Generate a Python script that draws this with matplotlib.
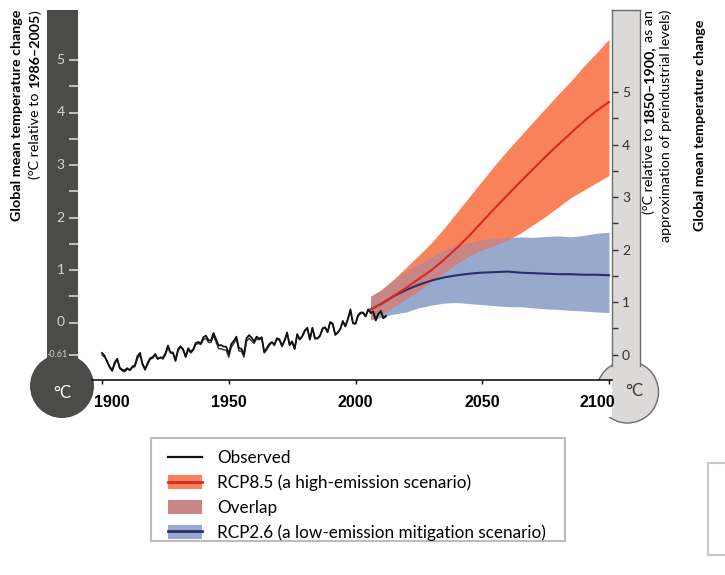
import matplotlib
matplotlib.use('Agg')
import matplotlib.pyplot as plt
from matplotlib.patches import Circle, Rectangle, Patch
from matplotlib.lines import Line2D
from matplotlib.transforms import offset_copy
import numpy as np

# ---- data ----
obs_years = np.arange(1900, 2013)
# two observational datasets, degC relative to 1986-2005
obs_a = [-0.58, -0.63, -0.75, -0.84, -0.91, -0.76, -0.69, -0.86, -0.90, -0.91,
         -0.87, -0.91, -0.84, -0.81, -0.64, -0.58, -0.80, -0.90, -0.77, -0.68,
         -0.66, -0.60, -0.69, -0.67, -0.67, -0.59, -0.44, -0.57, -0.57, -0.72,
         -0.51, -0.45, -0.52, -0.65, -0.49, -0.56, -0.51, -0.39, -0.37, -0.40,
         -0.28, -0.25, -0.34, -0.34, -0.20, -0.32, -0.44, -0.43, -0.46, -0.46,
         -0.60, -0.41, -0.35, -0.27, -0.49, -0.50, -0.61, -0.30, -0.24, -0.29,
         -0.36, -0.27, -0.31, -0.28, -0.56, -0.49, -0.41, -0.37, -0.42, -0.30,
         -0.32, -0.44, -0.34, -0.19, -0.42, -0.36, -0.50, -0.22, -0.32, -0.26,
         -0.15, -0.10, -0.32, -0.10, -0.30, -0.30, -0.25, -0.11, -0.09, -0.18,
         0.01, -0.02, -0.23, -0.19, -0.12, 0.03, -0.07, 0.07, 0.25, -0.01,
         -0.02, 0.14, 0.19, 0.19, 0.12, 0.25, 0.18, 0.20, 0.04, 0.16,
         0.21, 0.08, 0.12]
obs_b = [-0.62, -0.66, -0.72, -0.86, -0.93, -0.80, -0.70, -0.88, -0.92, -0.94,
         -0.89, -0.90, -0.86, -0.84, -0.68, -0.62, -0.78, -0.88, -0.80, -0.70,
         -0.68, -0.62, -0.70, -0.66, -0.70, -0.62, -0.48, -0.58, -0.59, -0.74,
         -0.54, -0.47, -0.50, -0.66, -0.52, -0.58, -0.53, -0.42, -0.40, -0.42,
         -0.33, -0.30, -0.38, -0.38, -0.25, -0.37, -0.50, -0.50, -0.52, -0.53,
         -0.66, -0.47, -0.40, -0.31, -0.54, -0.55, -0.66, -0.36, -0.30, -0.35,
         -0.40, -0.31, -0.33, -0.30, -0.58, -0.52, -0.44, -0.38, -0.44, -0.32,
         -0.34, -0.46, -0.36, -0.21, -0.44, -0.38, -0.51, -0.24, -0.33, -0.27,
         -0.17, -0.12, -0.33, -0.12, -0.31, -0.31, -0.26, -0.13, -0.10, -0.19,
         0.00, -0.04, -0.24, -0.20, -0.13, 0.01, -0.08, 0.06, 0.22, -0.02,
         -0.03, 0.12, 0.17, 0.18, 0.11, 0.24, 0.19, 0.21, 0.06, 0.17,
         0.23, 0.09, 0.13]

proj_years = [2006, 2010, 2015, 2020, 2025, 2030, 2035, 2040, 2045, 2050,
              2055, 2060, 2065, 2070, 2075, 2080, 2085, 2090, 2095, 2100]
rcp85_mean = [0.25, 0.35, 0.50, 0.66, 0.83, 1.00, 1.20, 1.42, 1.66, 1.92,
              2.18, 2.43, 2.68, 2.92, 3.16, 3.39, 3.61, 3.83, 4.03, 4.20]
rcp85_high = [0.50, 0.62, 0.82, 1.05, 1.28, 1.52, 1.80, 2.10, 2.40, 2.70,
              3.00, 3.28, 3.55, 3.82, 4.08, 4.35, 4.60, 4.88, 5.13, 5.40]
rcp85_low = [0.05, 0.15, 0.30, 0.45, 0.60, 0.78, 0.95, 1.12, 1.27, 1.38,
             1.47, 1.57, 1.70, 1.86, 2.02, 2.20, 2.38, 2.52, 2.66, 2.80]
rcp26_mean = [0.25, 0.35, 0.50, 0.62, 0.72, 0.80, 0.86, 0.90, 0.93, 0.95,
              0.96, 0.97, 0.95, 0.94, 0.93, 0.92, 0.92, 0.91, 0.91, 0.90]
rcp26_high = [0.50, 0.60, 0.80, 0.98, 1.12, 1.25, 1.38, 1.47, 1.52, 1.58,
              1.60, 1.62, 1.63, 1.62, 1.64, 1.65, 1.63, 1.66, 1.70, 1.72]
rcp26_low = [0.05, 0.10, 0.16, 0.20, 0.28, 0.33, 0.37, 0.38, 0.36, 0.34,
             0.32, 0.30, 0.30, 0.28, 0.26, 0.25, 0.23, 0.22, 0.20, 0.19]

baseline_offset = 0.61  # 1986-2005 vs 1850-1900
year_ticks = [1900, 1950, 2000, 2050, 2100]
therm_ticks = [0, 1, 2, 3, 4, 5]
therm_half = [0.5, 1.5, 2.5, 3.5, 4.5]
legend_labels = ['Observed', 'RCP8.5 (a high-emission scenario)', 'Overlap',
                 'RCP2.6 (a low-emission mitigation scenario)']

# ---- style ----
plt.rcParams['font.family'] = ['Lato', 'DejaVu Sans']

red_fill = '#fa825a'
red_line = '#d62a1e'
blue_fill = '#97aacd'
blue_line = '#2b2d6b'
overlap_c = '#c98585'
dark_therm = '#4b4b49'
light_therm = '#dcdad8'
edge_c = '#6b6b6b'

W, H = 725, 575
fig = plt.figure(figsize=(W / 100, H / 100), dpi=100)


def box(x0, y0, x1, y1):
    return [x0 / W, 1 - y1 / H, (x1 - x0) / W, (y1 - y0) / H]


def yval(ypx):
    # pixel row -> degC relative to 1986-2005
    return (322.5 - ypx) / 52.5


# main axes
ax = fig.add_axes(box(92, 10, 612, 380))
ax.set_facecolor('none')
ax.set_xlim(1900 - 10 / 2.535, 2100 + 3 / 2.535)
ax.set_ylim(yval(380), yval(10))
for s in ['top', 'left', 'right']:
    ax.spines[s].set_visible(False)
ax.spines['bottom'].set_linewidth(1.1)
ax.set_yticks([])
ax.set_xticks(year_ticks)
ax.set_xticklabels([])
ax.tick_params(axis='x', direction='out', length=3, width=1)

py = np.array(proj_years)
h85, l85 = np.array(rcp85_high), np.array(rcp85_low)
h26, l26 = np.array(rcp26_high), np.array(rcp26_low)
ax.fill_between(py, l85, h85, color=red_fill, lw=0)
ax.fill_between(py, l26, h26, color=blue_fill, lw=0)
ov_lo = np.maximum(l85, l26)
ov_hi = np.minimum(h85, h26)
ax.fill_between(py, ov_lo, ov_hi, where=ov_hi > ov_lo, interpolate=True,
                color=overlap_c, lw=0)
ax.plot(py, rcp26_mean, color=blue_line, lw=1.5)
ax.plot(py, rcp85_mean, color=red_line, lw=1.5)
ax.plot(obs_years, obs_b, color='#333333', lw=1.0)
ax.plot(obs_years, obs_a, color='#111111', lw=1.3)

shifts = {1900: 9.5, 2100: -12}
for yr in year_ticks:
    tr = offset_copy(ax.get_xaxis_transform(), fig=fig,
                     x=shifts.get(yr, 0), y=-15, units='dots')
    ax.text(yr, 0, str(yr), transform=tr, ha='center', va='top',
            fontsize=11.5, fontweight='bold',
            family=['Liberation Sans', 'DejaVu Sans'])

# white strip under the axis line (cuts into the right bulb)
fig.add_artist(Rectangle((94 / W, 1 - 417 / H), (612 - 94) / W, 37 / H,
                         transform=fig.transFigure, facecolor='white',
                         edgecolor='none', zorder=-0.5))

# left thermometer
fig.add_artist(Circle((62 / 100, (H - 386) / 100), 0.32,
                      transform=fig.dpi_scale_trans, facecolor=dark_therm,
                      edgecolor='none', zorder=-1))
axl = fig.add_axes(box(47, 10, 78, 365))
axl.set_facecolor(dark_therm)
axl.set_ylim(yval(365), yval(10))
axl.set_xlim(0, 1)
axl.set_xticks([])
axl.set_yticks([])
for s in axl.spines.values():
    s.set_visible(False)
ytr = axl.get_yaxis_transform()
left_marks = [-baseline_offset] + therm_ticks
axl.hlines(left_marks + therm_half, 0.72, 1.0, transform=ytr,
           color='#d4d4d4', lw=1.2)
for v in left_marks:
    if v < 0:
        axl.text(0.68, v, f'-{baseline_offset:.2f}', transform=ytr, ha='right',
                 va='center', color='#d4d4d4', fontsize=6.5)
    else:
        axl.text(0.57, v, str(v), transform=ytr, ha='right', va='center',
                 color='#d4d4d4', fontsize=10)
fig.text(62 / W, 1 - 393 / H, '°C', color='white', fontsize=12,
         ha='center', va='center')

# right thermometer
fig.add_artist(Circle((627.5 / 100, (H - 392) / 100), 0.31,
                      transform=fig.dpi_scale_trans, facecolor=light_therm,
                      edgecolor=edge_c, lw=1, zorder=-1))
axr = fig.add_axes(box(612, 10, 640, 366))
axr.set_facecolor(light_therm)
axr.set_ylim(yval(366) + baseline_offset, yval(10) + baseline_offset)
axr.set_xticks([])
for s in ['left', 'right', 'top']:
    axr.spines[s].set_color(edge_c)
    axr.spines[s].set_linewidth(1)
axr.spines['bottom'].set_visible(False)
axr.set_yticks(therm_ticks)
axr.set_yticks(therm_half, minor=True)
axr.tick_params(axis='y', which='both', left=True, right=False, direction='in',
                length=4.5, width=1, colors='#333333', labelleft=True,
                pad=-13, labelsize=10)
fig.text(634 / W, 1 - 391 / H, '°C', color='#333333', fontsize=12,
         ha='center', va='center')

# rotated axis titles, built piece by piece so part can be bold
renderer = fig.canvas.get_renderer()


def stack_text(x, y_top, pieces, size):
    # pieces in reading order; gap = space in px before that piece
    y = y_top
    for s, w, gap in reversed(pieces):
        t = fig.text(x / W, 1 - y / H, s, rotation=90, ha='center', va='top',
                     fontsize=size, fontweight=w)
        bb = t.get_window_extent(renderer)
        y = H - bb.y0 + gap


stack_text(17, 10, [('Global mean temperature change', 'bold', 0)], 10.3)
stack_text(35, 10, [('(°C relative to', 'normal', 0), ('1986–2005', 'bold', 4),
                    (')', 'normal', 0)], 10.3)
stack_text(649, 10, [('(°C relative to', 'normal', 0), ('1850–1900,', 'bold', 4),
                     ('as an', 'normal', 4)], 10.3)
stack_text(666, 10, [('approximation of preindustrial levels)', 'normal', 0)], 10.3)
stack_text(700, 20, [('Global mean temperature change', 'bold', 0)], 10.3)

# legend
fig.add_artist(Rectangle((151 / W, 1 - 541 / H), (565 - 151) / W, 103 / H,
                         transform=fig.transFigure, facecolor='white',
                         edgecolor='#bdbdbd', lw=1.5))
handles = [Line2D([], [], color='#111111', lw=1.6),
           (Patch(facecolor=red_fill), Line2D([], [], color=red_line, lw=2)),
           Patch(facecolor=overlap_c),
           (Patch(facecolor=blue_fill), Line2D([], [], color=blue_line, lw=2))]
fig.legend(handles, legend_labels, loc='upper left',
           bbox_to_anchor=(168 / W, 1 - 450 / H), frameon=False, fontsize=12.3,
           handlelength=2.0, handleheight=0.88, handletextpad=0.88,
           borderpad=0, borderaxespad=0, labelspacing=0.5)

# edge of a neighbouring panel, cut off at the right
fig.add_artist(Rectangle((708 / W, 1 - 555 / H), 40 / W, 92 / H,
                         transform=fig.transFigure, facecolor='white',
                         edgecolor='#c8c8c8', lw=1.5))

fig.savefig('out.png', dpi=100)
